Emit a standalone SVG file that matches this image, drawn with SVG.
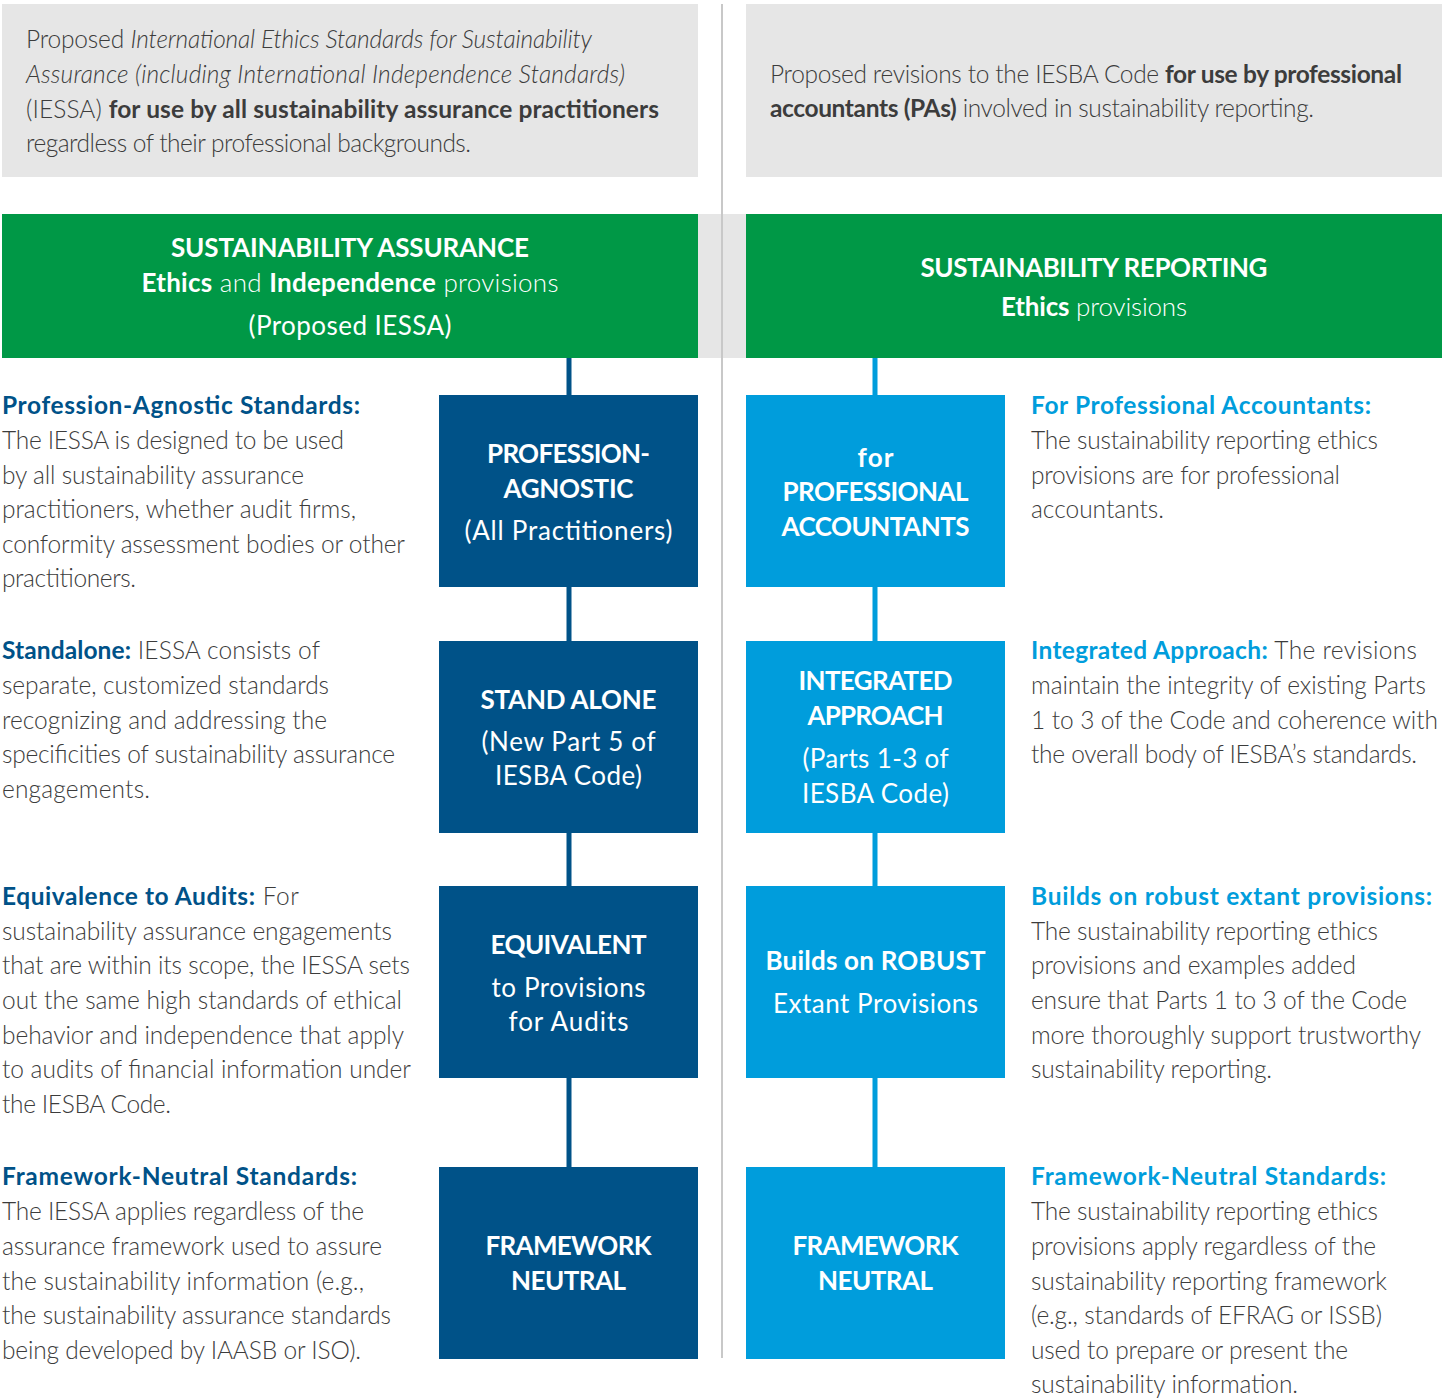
<svg xmlns="http://www.w3.org/2000/svg" width="1442" height="1399" viewBox="0 0 1442 1399">
  <style>
    text { font-family: Lato, "Open Sans", "Liberation Sans", sans-serif; }
    .body { font-size: 24.5px; font-weight: 300; fill: #3c3c3c; }
    .b { font-weight: 700; }
    .i { font-style: italic; }
    .hl { font-size: 24.5px; font-weight: 700; fill: #005288; }
    .hr { font-size: 24.5px; font-weight: 700; fill: #009ddc; }
    .hdr { font-size: 26px; fill: #ffffff; text-anchor: middle; font-weight: 300; }
    .cap { font-size: 26px; fill: #ffffff; text-anchor: middle; font-weight: 700; }
    .sub { font-size: 26px; fill: #ffffff; text-anchor: middle; font-weight: 400; }
    .panel { fill: #e6e6e6; }
    .green { fill: #009846; }
    .dark { fill: #005288; }
    .light { fill: #009ddc; }
  </style>

  <!-- intro panels -->
  <g id="intro-left">
    <rect class="panel" x="2" y="4" width="696" height="173"/>
    <text class="body" x="26" y="48" textLength="566">Proposed <tspan class="i">International Ethics Standards for Sustainability</tspan></text>
    <text class="body i" x="26" y="83" textLength="599">Assurance (including International Independence Standards)</text>
    <text class="body" x="26" y="118" textLength="633">(IESSA) <tspan class="b">for use by all sustainability assurance practitioners</tspan></text>
    <text class="body" x="26" y="152" textLength="445">regardless of their professional backgrounds.</text>
  </g>
  <g id="intro-right">
    <rect class="panel" x="746" y="4" width="696" height="173"/>
    <text class="body" x="770" y="83" textLength="632">Proposed revisions to the IESBA Code <tspan class="b">for use by professional</tspan></text>
    <text class="body" x="770" y="117" textLength="544"><tspan class="b">accountants (PAs)</tspan> involved in sustainability reporting.</text>
  </g>

  <!-- band between the two headers and the column divider -->
  <rect class="panel" x="698" y="214" width="48" height="144"/>
  <line x1="722" y1="4" x2="722" y2="1358" stroke="#c8c8c8" stroke-width="2"/>

  <!-- column headers -->
  <g id="header-assurance">
    <rect class="green" x="2" y="214" width="696" height="144"/>
    <text class="cap" x="350" y="257" textLength="358">SUSTAINABILITY ASSURANCE</text>
    <text class="hdr" x="350" y="292" textLength="417"><tspan font-weight="700">Ethics</tspan> and <tspan font-weight="700">Independence</tspan> provisions</text>
    <text class="sub" x="350" y="335" textLength="203">(Proposed IESSA)</text>
  </g>
  <g id="header-reporting">
    <rect class="green" x="746" y="214" width="696" height="144"/>
    <text class="cap" x="1094" y="277" textLength="347">SUSTAINABILITY REPORTING</text>
    <text class="hdr" x="1094" y="316" textLength="186"><tspan font-weight="700">Ethics</tspan> provisions</text>
  </g>

  <!-- connectors -->
  <g id="connectors">
    <line x1="569" y1="358" x2="569" y2="1167" stroke="#005288" stroke-width="5"/>
    <line x1="875" y1="358" x2="875" y2="1167" stroke="#009ddc" stroke-width="5"/>
  </g>

  <!-- assurance nodes -->
  <g id="node-profession-agnostic">
    <rect class="dark" x="439" y="395" width="259" height="192"/>
    <text class="cap" x="568.5" y="463" textLength="163">PROFESSION-</text>
    <text class="cap" x="568.5" y="498" textLength="130">AGNOSTIC</text>
    <text class="sub" x="568.5" y="540" textLength="208">(All Practitioners)</text>
  </g>
  <g id="node-stand-alone">
    <rect class="dark" x="439" y="641" width="259" height="192"/>
    <text class="cap" x="568.5" y="709" textLength="176">STAND ALONE</text>
    <text class="sub" x="568.5" y="751" textLength="174">(New Part 5 of</text>
    <text class="sub" x="568.5" y="785" textLength="147">IESBA Code)</text>
  </g>
  <g id="node-equivalent">
    <rect class="dark" x="439" y="886" width="259" height="192"/>
    <text class="cap" x="568.5" y="954" textLength="156">EQUIVALENT</text>
    <text class="sub" x="568.5" y="997" textLength="154">to Provisions</text>
    <text class="sub" x="568.5" y="1031" textLength="120">for Audits</text>
  </g>
  <g id="node-framework-neutral-a">
    <rect class="dark" x="439" y="1167" width="259" height="192"/>
    <text class="cap" x="568.5" y="1255" textLength="166">FRAMEWORK</text>
    <text class="cap" x="568.5" y="1290" textLength="115">NEUTRAL</text>
  </g>

  <!-- reporting nodes -->
  <g id="node-professional-accountants">
    <rect class="light" x="746" y="395" width="259" height="192"/>
    <text class="cap" x="875.5" y="467" textLength="36">for</text>
    <text class="cap" x="875.5" y="501" textLength="186">PROFESSIONAL</text>
    <text class="cap" x="875.5" y="536" textLength="188">ACCOUNTANTS</text>
  </g>
  <g id="node-integrated">
    <rect class="light" x="746" y="641" width="259" height="192"/>
    <text class="cap" x="875.5" y="690" textLength="154">INTEGRATED</text>
    <text class="cap" x="875.5" y="725" textLength="136">APPROACH</text>
    <text class="sub" x="875.5" y="768" textLength="146">(Parts 1-3 of</text>
    <text class="sub" x="875.5" y="803" textLength="147">IESBA Code)</text>
  </g>
  <g id="node-robust">
    <rect class="light" x="746" y="886" width="259" height="192"/>
    <text class="cap" x="875.5" y="970" textLength="220">Builds on ROBUST</text>
    <text class="sub" x="875.5" y="1013" textLength="205">Extant Provisions</text>
  </g>
  <g id="node-framework-neutral-r">
    <rect class="light" x="746" y="1167" width="259" height="192"/>
    <text class="cap" x="875.5" y="1255" textLength="166">FRAMEWORK</text>
    <text class="cap" x="875.5" y="1290" textLength="115">NEUTRAL</text>
  </g>

  <!-- assurance descriptions -->
  <g id="desc-profession-agnostic">
    <text class="hl" x="2" y="414" textLength="358">Profession-Agnostic Standards:</text>
    <text class="body" x="2" y="449" textLength="342">The IESSA is designed to be used</text>
    <text class="body" x="2" y="484" textLength="302">by all sustainability assurance</text>
    <text class="body" x="2" y="518" textLength="354">practitioners, whether audit firms,</text>
    <text class="body" x="2" y="553" textLength="403">conformity assessment bodies or other</text>
    <text class="body" x="2" y="587" textLength="134">practitioners.</text>
  </g>
  <g id="desc-standalone">
    <text class="body" x="2" y="659" textLength="318"><tspan class="hl">Standalone:</tspan> IESSA consists of</text>
    <text class="body" x="2" y="694" textLength="327">separate, customized standards</text>
    <text class="body" x="2" y="729" textLength="325">recognizing and addressing the</text>
    <text class="body" x="2" y="763" textLength="393">specificities of sustainability assurance</text>
    <text class="body" x="2" y="798" textLength="148">engagements.</text>
  </g>
  <g id="desc-equivalence">
    <text class="body" x="2" y="905" textLength="297"><tspan class="hl">Equivalence to Audits:</tspan> For</text>
    <text class="body" x="2" y="940" textLength="390">sustainability assurance engagements</text>
    <text class="body" x="2" y="974" textLength="408">that are within its scope, the IESSA sets</text>
    <text class="body" x="2" y="1009" textLength="400">out the same high standards of ethical</text>
    <text class="body" x="2" y="1044" textLength="402">behavior and independence that apply</text>
    <text class="body" x="2" y="1078" textLength="409">to audits of financial information under</text>
    <text class="body" x="2" y="1113" textLength="169">the IESBA Code.</text>
  </g>
  <g id="desc-framework-neutral-a">
    <text class="hl" x="2" y="1185" textLength="355">Framework-Neutral Standards:</text>
    <text class="body" x="2" y="1220" textLength="362">The IESSA applies regardless of the</text>
    <text class="body" x="2" y="1255" textLength="380">assurance framework used to assure</text>
    <text class="body" x="2" y="1290" textLength="362">the sustainability information (e.g.,</text>
    <text class="body" x="2" y="1324" textLength="389">the sustainability assurance standards</text>
    <text class="body" x="2" y="1359" textLength="359">being developed by IAASB or ISO).</text>
  </g>

  <!-- reporting descriptions -->
  <g id="desc-professional-accountants">
    <text class="hr" x="1031" y="414" textLength="340">For Professional Accountants:</text>
    <text class="body" x="1031" y="449" textLength="347">The sustainability reporting ethics</text>
    <text class="body" x="1031" y="484" textLength="309">provisions are for professional</text>
    <text class="body" x="1031" y="518" textLength="133">accountants.</text>
  </g>
  <g id="desc-integrated">
    <text class="body" x="1031" y="659" textLength="386"><tspan class="hr">Integrated Approach:</tspan> The revisions</text>
    <text class="body" x="1031" y="694" textLength="395">maintain the integrity of existing Parts</text>
    <text class="body" x="1031" y="729" textLength="407">1 to 3 of the Code and coherence with</text>
    <text class="body" x="1031" y="763" textLength="386">the overall body of IESBA’s standards.</text>
  </g>
  <g id="desc-robust">
    <text class="hr" x="1031" y="905" textLength="401">Builds on robust extant provisions:</text>
    <text class="body" x="1031" y="940" textLength="347">The sustainability reporting ethics</text>
    <text class="body" x="1031" y="974" textLength="325">provisions and examples added</text>
    <text class="body" x="1031" y="1009" textLength="376">ensure that Parts 1 to 3 of the Code</text>
    <text class="body" x="1031" y="1044" textLength="390">more thoroughly support trustworthy</text>
    <text class="body" x="1031" y="1078" textLength="241">sustainability reporting.</text>
  </g>
  <g id="desc-framework-neutral-r">
    <text class="hr" x="1031" y="1185" textLength="355">Framework-Neutral Standards:</text>
    <text class="body" x="1031" y="1220" textLength="347">The sustainability reporting ethics</text>
    <text class="body" x="1031" y="1255" textLength="345">provisions apply regardless of the</text>
    <text class="body" x="1031" y="1290" textLength="356">sustainability reporting framework</text>
    <text class="body" x="1031" y="1324" textLength="351">(e.g., standards of EFRAG or ISSB)</text>
    <text class="body" x="1031" y="1359" textLength="317">used to prepare or present the</text>
    <text class="body" x="1031" y="1393" textLength="267">sustainability information.</text>
  </g>
</svg>
